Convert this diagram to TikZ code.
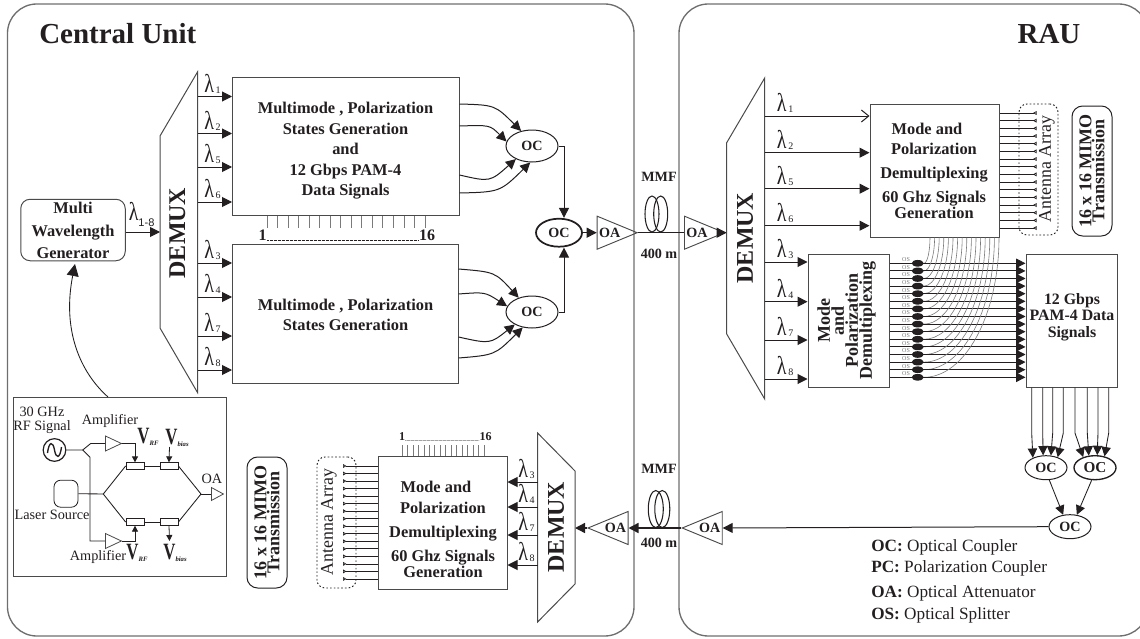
\documentclass[tikz,border=0pt]{standalone}
\usepackage{fontspec}
\usepackage{graphicx}
\setmainfont{Liberation Serif}
\setsansfont{Liberation Sans}
\usetikzlibrary{arrows.meta,positioning,calc,shapes.geometric}
\definecolor{cText}{HTML}{231F20}
\definecolor{cFrame}{HTML}{6E6E6E}
\definecolor{cBox}{HTML}{4A4A4A}
\definecolor{cThin}{HTML}{7A7A7A}
\tikzset{
  sized/.style 2 args={minimum width=#1*0.75pt, minimum height=#2*0.75pt},
  frame/.style={draw=cFrame, line width=1pt, rounded corners=22pt, inner sep=0pt},
  blk/.style={draw=cBox, line width=.75pt, inner sep=0pt},
  softblk/.style={blk, rounded corners=7pt},
  boxtxt/.style={font=\fontsize{12.3}{12}\selectfont\bfseries, text=cText, align=center, inner sep=0pt},
  rottxt/.style={font=\fontsize{13.5}{9.4}\selectfont\bfseries, text=cText, align=center, inner sep=0pt, rotate=90},
  title/.style={font=\fontsize{21.75}{24}\selectfont\bfseries, text=cText, inner sep=0pt},
  demuxtxt/.style={font=\fontsize{18}{20}\selectfont\bfseries, text=cText, inner sep=0pt, rotate=90},
  small/.style={font=\fontsize{10.6}{11}\selectfont\bfseries, text=cText, inner sep=0pt},
  plain/.style={font=\fontsize{10.7}{10.6}\selectfont, text=cText, inner sep=0pt, align=center},
  legend/.style={font=\fontsize{12.9}{14}\selectfont, text=cText, inner sep=0pt, anchor=base west},
  antxt/.style={font=\fontsize{13.4}{14}\selectfont, text=cText, inner sep=0pt, rotate=90},
  dotbox/.style={draw=cText, line width=.7pt, dash pattern=on 1.2pt off 1.6pt, rounded corners=6pt},
  mimo/.style={draw=cText, line width=.75pt, rounded corners=8pt, rotate=90, inner sep=0pt, align=center,
               font=\fontsize{13.5}{9.8}\selectfont\bfseries, text=cText},
  oc/.style={draw=cText, ellipse, line width=.75pt, inner sep=0pt, fill=white, font=\fontsize{10.6}{11}\selectfont\bfseries, text=cText},
  osp/.style={ellipse, fill=cText, inner sep=0pt, minimum width=9pt, minimum height=5pt},
  ostxt/.style={font=\fontsize{4.5}{5}\selectfont, text=cThin, inner sep=0pt},
  coil/.style={draw=cText, ellipse, line width=.8pt, inner sep=0pt},
  oa/.style={draw=cBox, isosceles triangle, isosceles triangle stretches, line width=.7pt, inner sep=0pt,
             anchor=lower side, sized={33}{40}, font=\fontsize{10.6}{11}\selectfont\bfseries, text=cText},
  amp/.style={draw=cBox, isosceles triangle, isosceles triangle stretches, line width=.6pt, inner sep=0pt, anchor=lower side, sized={15}{16}},
  mzm/.style={draw=cText, line width=.6pt, inner sep=0pt, sized={18}{6.5}},
  lam/.style={font=\fontsize{17}{18}\selectfont, text=cText, inner sep=0pt, anchor=base west},
  ln/.style={draw=cText, line width=.65pt},
  arr/.style={-{Triangle[length=7.5pt,width=7.5pt]}, line width=.75pt, cText},
  osarr/.style={-{Triangle[length=7pt,width=7pt]}, line width=.65pt, cText},
  openarr/.style={-{Straight Barb[length=5.5pt,width=9pt]}, line width=.75pt, cText},
  tinyarr/.style={-{Triangle[length=4.5pt,width=4.5pt]}, line width=.6pt, cText},
  antarr/.style={-{Triangle[open,reversed,length=2.6pt,width=2.8pt]}, line width=.55pt, cText},
  tickln/.style={draw=cThin, line width=.55pt},
  dotln/.style={draw=cText, line width=.5pt, dash pattern=on .5pt off .5pt}
}
\newcommand{\lamsym}{\scalebox{.88}[1.14]{λ}}
\newcommand{\lamsub}[1]{\lamsym\raisebox{-1pt}{\fontsize{7.5}{8}\selectfont\,#1}}
\newcommand{\vlbl}[1]{{\bfseries\scalebox{.72}[1]{\fontsize{17.5}{17}\selectfont V}\raisebox{-1.5pt}{\fontsize{5}{5}\selectfont\itshape #1}}}

\begin{document}
\begin{tikzpicture}[x=0.75pt, y=-0.75pt]
\useasboundingbox (0,0) rectangle (1140,639);
% panels
\node[frame, sized={626.5}{632}] (cuFrame) at (320.75,320) {};
\node[frame, sized={469}{632}] (rauFrame) at (913.5,320) {};
\node[title, anchor=west] (cuTitle) at (39,34) {Central Unit};
\node[title] (rauTitle) at (1049,34) {RAU};

% central unit, generator and first demux
\node[softblk, sized={104.5}{61.5}] (genBox) at (73,230) {};
\node[boxtxt, font=\fontsize{12.3}{17}\selectfont\bfseries] (genTxt) at (73,230.5) {Multi\\Wavelength\\Generator};
\draw[blk] (197.5,72) coordinate (dmxA) -- (160,136) -- (160,328) -- (197.5,392.5) -- cycle;
\coordinate (dmxIn) at (160,232);
\node[demuxtxt] (dmxAtxt) at (177.5,233) {DEMUX};
\draw[arr] (genBox.east |- dmxIn) -- (dmxIn);
\node[lam] (lamGen) at (128.5,220) {\lamsym\raisebox{-4.5pt}{\fontsize{8.3}{9}\selectfont\sffamily 1-8}};
\node[blk, sized={227}{138}] (modOne) at (345.5,146) {};
\node[blk, sized={226}{139}] (modTwo) at (345,313.5) {};
\node[boxtxt, font=\fontsize{12.3}{15.4}\selectfont\bfseries] (modOneTxt) at (345.5,151) {Multimode , Polarization\\States Generation\\and\\12 Gbps PAM-4\\Data Signals};
\node[boxtxt, font=\fontsize{12.3}{15.4}\selectfont\bfseries] (modTwoTxt) at (345.5,315) {Multimode , Polarization\\States Generation};
\foreach \y/\n in {96.5/1,133.5/2,167/5,202/6,263/3,297/4,336/7,370/8} {
  \coordinate (dmxAo\n) at (197.5,\y);
  \draw[arr] (dmxAo\n) -- (232,\y);
  \node[lam] (lamA\n) at (204,\y-4.5) {\lamsub{\n}};
}
% wires between the two generators
\foreach \i in {0,...,15} {
  \pgfmathsetmacro\tx{267+\i*10.53}
  \draw[tickln] (\tx,0 |- modOne.south) -- ++(0,12);
}
\node[small, font=\fontsize{12}{12}\selectfont\bfseries, anchor=base] (numOne) at (262.7,240) {1};
\node[small, font=\fontsize{12}{12}\selectfont\bfseries, anchor=base] (numSix) at (427,240) {16};
\draw[dotln] (numOne.base east) -- (numSix.base west);

% couplers of the central unit
\node[oc, sized={52}{32}] (ocA) at (532,146) {OC};
\node[oc, sized={52}{32}] (ocB) at (532,312) {OC};
\node[oc, sized={46}{28}, line width=1.3pt] (ocMain) at (559,232.7) {OC};
\foreach \sy/\cx/\cy/\an in {104/495/105/126,126/490/125/170,175/490/182/219,193/500/192/264}
  \draw[arr] (modOne.east |- 0,\sy) .. controls (\cx,\cy) .. (ocA.\an);
\foreach \sy/\cx/\cy/\an in {269/495/272/133,294/485/292/167,337/490/344/216,358/495/355/239}
  \draw[arr] (modTwo.east |- 0,\sy) .. controls (\cx,\cy) .. (ocB.\an);
\coordinate (ocJoin) at (564,0);
\draw[arr] (ocA.east) -| (ocJoin |- ocMain.north);
\draw[arr] (ocB.east) -| (ocJoin |- ocMain.south);

% uplink fibre
\node[oa] (oaOne) at (596.7,232.7) {OA};
\node[oa] (oaTwo) at (684,232.7) {OA};
\node[coil, sized={14}{36}] (coilA) at (652,214) {};
\node[coil, sized={14}{36}] (coilB) at (660.7,214) {};
\node[small] (mmfA) at (659,176.7) {MMF};
\node[small] (lenA) at (659,254) {400 m};
\coordinate (dmxBin) at (726.7,232.7);
\draw[arr] (ocMain.east) -- (oaOne.lower side);
\draw[ln, line width=1pt] (oaOne.apex) -- (oaTwo.lower side);
\draw[arr] (oaTwo.apex) -- (dmxBin);

% RAU, upper half
\draw[blk] (764.7,78) -- (726.7,142.7) -- (726.7,334) -- (764.7,399) -- cycle;
\node[demuxtxt] (dmxBtxt) at (745,238) {DEMUX};
\node[blk, sized={129}{133}] (rxMode) at (934.5,170.5) {};
\node[boxtxt] (rxModeTxt) at (934,171) {Mode and\hspace*{10.5pt}\\[3pt]Polarization\\[6pt]Demultiplexing\\[6pt]60 Ghz Signals\\Generation};
\node[blk, sized={81}{133}] (rxPol) at (848.5,320.5) {};
\node[rottxt] (rxPolTxt) at (846.5,320.5) {Mode\\and\\Polarization\\Demultiplexing};
\node[blk, sized={91}{133}] (rxData) at (1071.5,320.5) {};
\node[boxtxt, font=\fontsize{11.9}{12.4}\selectfont\bfseries] (rxDataTxt) at (1072,317) {12 Gbps\\PAM-4 Data\\Signals};
\coordinate (dmxBo1) at (764.7,116);
\draw[openarr] (dmxBo1) -- (rxMode.west |- dmxBo1);
\node[lam] (lamB1) at (776.7,111.5) {\lamsub{1}};
\foreach \y/\n in {152.7/2,188.7/5,225.7/6} {
  \coordinate (dmxBo\n) at (764.7,\y);
  \draw[arr] (dmxBo\n) -- (rxMode.west |- dmxBo\n);
  \node[lam] (lamB\n) at (776.7,\y-4.5) {\lamsub{\n}};
}
\foreach \y/\n in {262/3,301.7/4,340/7,379/8} {
  \coordinate (dmxBo\n) at (764.7,\y);
  \draw[arr] (dmxBo\n) -- (rxPol.west |- dmxBo\n);
  \node[lam] (lamB\n) at (776.7,\y-4.5) {\lamsub{\n}};
}
% antennas and splitters
\node[dotbox, sized={39}{131}] (antBoxA) at (1038.5,169.5) {};
\node[antxt] (antTxtA) at (1047,169) {Antenna Array};
\foreach \i in {0,...,15} {
  \pgfmathsetmacro\ay{113+\i*7.67}
  \draw[antarr] (rxMode.east |- 0,\ay) -- ++(37,0);
}
\node[mimo, sized={130}{40}] (mimoA) at (1092,171) {16 x 16 MIMO\\Transmission};
\foreach \i in {0,...,15} {
  \pgfmathsetmacro\oy{263.3+\i*7.6}
  \pgfmathsetmacro\sx{930+\i*4.6}
  \pgfmathsetmacro\cy{237+.55*(\oy-237)}
  \pgfmathsetmacro\cx{924+.55*(\sx-924)}
  \node[osp] (osp\i) at (917.7,\oy) {};
  \node[ostxt] (ost\i) at (906,\oy-3.5) {OS};
  \draw[tickln, line width=.45pt] (\sx,0 |- rxMode.south) .. controls (\sx,\cy) and (\cx,\oy) .. (osp\i.east);
  \draw[osarr] (rxPol.east |- 0,\oy) -- (rxData.west |- 0,\oy);
}
% couplers of the RAU
\node[oc, sized={42}{24}] (ocC) at (1046,467.7) {OC};
\node[oc, sized={42}{24}, line width=1pt, font=\fontsize{11.4}{12}\selectfont\bfseries] (ocD) at (1095,467.7) {OC};
\node[oc, sized={42}{24}] (ocE) at (1070,526.7) {OC};
\foreach \x/\an in {1031.7/143,1042.7/103,1052.7/68,1063.3/42}
  \draw[osarr] (\x,0 |- rxData.south) -- (\x,433) -- (ocC.\an);
\foreach \x/\an in {1075/138,1087.3/117,1098/80,1108.7/50}
  \draw[osarr] (\x,0 |- rxData.south) -- (\x,433) -- (ocD.\an);
\draw[osarr] (ocC.-75) -- (ocE.120);
\draw[osarr] (ocD.-105) -- (ocE.60);

% downlink fibre
\node[oa, shape border rotate=180] (oaThree) at (722.7,528) {OA};
\node[oa, shape border rotate=180] (oaFour) at (628.5,528) {OA};
\node[coil, sized={15}{37}] (coilC) at (655.8,509) {};
\node[coil, sized={15}{37}] (coilD) at (662.3,509) {};
\node[small] (mmfB) at (659,469) {MMF};
\node[small] (lenB) at (659,543) {400 m};
\coordinate (dmxCin) at (575,528);
\draw[arr] (ocE.west) -- (oaThree.lower side);
\draw[arr, line width=1pt] (oaThree.apex) -- (oaFour.lower side);
\draw[arr, line width=1pt] (oaFour.apex) -- (dmxCin);

% central unit, return path
\draw[blk] (537.6,433) -- (575,471) -- (575,584) -- (537.6,622) -- cycle;
\node[demuxtxt] (dmxCtxt) at (556,527) {DEMUX};
\node[blk, sized={128.5}{133}] (txMode) at (442.75,522.5) {};
\node[boxtxt] (txModeTxt) at (443,529.5) {Mode and\hspace*{10.5pt}\\[3.7pt]Polarization\\[6pt]Demultiplexing\\[6pt]60 Ghz Signals\\Generation};
\foreach \y/\n in {482/3,507/4,535/7,565/8} {
  \coordinate (dmxCo\n) at (537.6,\y);
  \draw[arr] (dmxCo\n) -- (txMode.east |- dmxCo\n);
  \node[lam] (lamC\n) at (518,\y-5) {\lamsub{\n}};
}
\foreach \i in {0,...,15} {
  \pgfmathsetmacro\tx{402+\i*5.47}
  \draw[tickln] (\tx,0 |- txMode.north) -- ++(0,-11);
}
\node[small, font=\fontsize{9}{9}\selectfont\bfseries] (numBot) at (402,436.7) {1};
\node[small, font=\fontsize{9}{9}\selectfont\bfseries] (numTop) at (485.5,436.7) {16};
\draw[dotln] (numBot.base east) -- (numTop.base west);
\node[dotbox, sized={39}{131}] (antBoxB) at (336.5,522.5) {};
\node[antxt] (antTxtB) at (329,522) {Antenna Array};
\foreach \i in {0,...,15} {
  \pgfmathsetmacro\ay{466+\i*7.53}
  \draw[antarr] (txMode.west |- 0,\ay) -- ++(-35,0);
}
\node[mimo, sized={131}{40}] (mimoB) at (267,522.5) {16 x 16 MIMO\\Transmission};

% laser and modulator inset
\node[blk, sized={213}{179}] (inset) at (119.5,487) {};
\draw[ln, -{Triangle[length=9pt,width=9pt]}] (inset.north -| 108,0) .. controls (80,372) and (62,330) .. (75,264);
\node[plain] (rfTxt) at (42,420) {30 GHz\\RF Signal};
\node[draw=cText, circle, line width=.9pt, inner sep=0pt, minimum size=17pt] (rfSrc) at (54.5,450) {};
\draw[ln, line width=1pt] (47.5,453) .. controls (49,441) and (53,441) .. (54.5,450) .. controls (56,459) and (60,459) .. (61.5,447);
\node[plain] (ampTxtA) at (110,421) {Amplifier};
\node[plain] (ampTxtB) at (98,557) {Amplifier};
\node[amp] (ampA) at (105,443.5) {};
\node[amp] (ampB) at (105,541) {};
\node[plain] (lsrTxt) at (52,515) {Laser Source};
\node[draw=cText, line width=.6pt, rounded corners=5pt, inner sep=0pt, sized={24}{27}] (lsr) at (66,493.7) {};
\node[mzm] (mzA) at (135,466) {};
\node[mzm] (mzB) at (169,466) {};
\node[mzm] (mzC) at (135,522) {};
\node[mzm] (mzD) at (169,522) {};
\coordinate (rfFork) at (82.7,450);
\coordinate (lsrFork) at (103.3,494);
\coordinate (lsrJoin) at (201,494);
\node[amp, sized={13}{12}] (ampOut) at (211,494) {};
\node[plain] (oaLbl) at (212,479) {OA};
\draw[ln] (rfSrc.east) -- (rfFork) -- (90.7,443.5) -- (ampA.lower side);
\draw[ln] (rfFork) -- (90,457.3) |- (ampB.lower side);
\draw[ln] (lsr.east) -- (lsrFork);
\draw[ln] (lsrFork) -- (mzA.west);
\draw[ln] (lsrFork) -- (mzC.west);
\draw[ln] (mzA.east) -- (mzB.west);
\draw[ln] (mzC.east) -- (mzD.west);
\draw[ln] (mzB.east) -- (lsrJoin);
\draw[ln] (mzD.east) -- (lsrJoin);
\draw[ln] (lsrJoin) -- (ampOut.lower side);
\draw[tinyarr] (ampA.apex) -| (mzA.north);
\draw[tinyarr] (ampB.apex) -| (mzC.south);
\coordinate (biasA) at (169.5,447);
\coordinate (biasB) at (169.5,541);
\draw[tinyarr] (biasA) -- (mzB.north);
\draw[tinyarr] (mzD.south) -- (biasB);
\node[inner sep=0pt, text=cText] (vRfA) at (148,437) {\vlbl{RF}};
\node[inner sep=0pt, text=cText] (vBiasA) at (177,437.5) {\vlbl{bias}};
\node[inner sep=0pt, text=cText] (vRfB) at (137,553) {\vlbl{RF}};
\node[inner sep=0pt, text=cText] (vBiasB) at (175,553) {\vlbl{bias}};

% key
\node[legend] (keyOC) at (871,551) {\textbf{OC:} Optical Coupler};
\node[legend] (keyPC) at (871,572) {\textbf{PC:} Polarization Coupler};
\node[legend] (keyOA) at (871,597) {\textbf{OA:} Optical Attenuator};
\node[legend] (keyOS) at (871,619) {\textbf{OS:} Optical Splitter};
\end{tikzpicture}
\end{document}
